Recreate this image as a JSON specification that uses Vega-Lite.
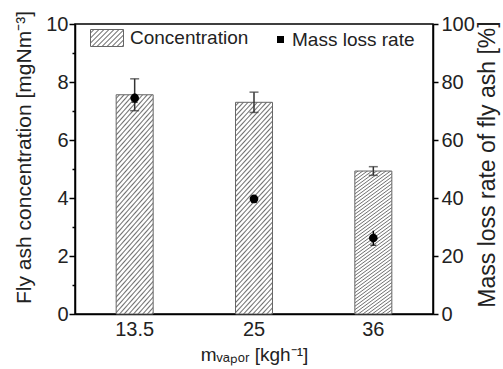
{
  "$schema": "https://vega.github.io/schema/vega-lite/v6.json",
  "width": 358,
  "height": 290,
  "autosize": {"type": "none"},
  "padding": {"left": 75, "top": 24, "right": 70, "bottom": 55},
  "config": {
    "font": "Liberation Sans",
    "view": {"stroke": "black", "strokeWidth": 1.5},
    "axis": {
      "grid": false,
      "domainColor": "black",
      "domainWidth": 1.5,
      "tickColor": "black",
      "tickWidth": 1.5,
      "labelColor": "#222",
      "titleColor": "#222",
      "titleFontWeight": "normal",
      "labelFont": "Liberation Sans",
      "titleFont": "Liberation Sans"
    }
  },
  "data": {
    "values": [
      {"m": "13.5", "conc": 7.56, "conc_lo": 7.01, "conc_hi": 8.11, "loss": 74.5, "loss_lo": 73.0, "loss_hi": 76.0},
      {"m": "25", "conc": 7.3, "conc_lo": 6.95, "conc_hi": 7.65, "loss": 39.7, "loss_lo": 38.5, "loss_hi": 41.0},
      {"m": "36", "conc": 4.93, "conc_lo": 4.78, "conc_hi": 5.08, "loss": 26.2, "loss_lo": 23.7, "loss_hi": 28.7}
    ]
  },
  "encoding": {
    "x": {
      "field": "m",
      "type": "nominal",
      "sort": null,
      "scale": {"paddingInner": 0.69, "paddingOuter": 0.345},
      "axis": {
        "ticks": false,
        "labelAngle": 0,
        "labelFontSize": 20,
        "labelPadding": 5,
        "title": "mᵥₐₚₒᵣ [kgh⁻¹]",
        "titleFontSize": 19,
        "titlePadding": 6
      }
    }
  },
  "layer": [
    {
      "layer": [
        {
          "mark": {
            "type": "bar",
            "stroke": "#666",
            "strokeWidth": 1,
            "fill": {
              "gradient": "linear", "x1": 0, "y1": 0, "x2": 0.2185, "y2": 1.15,
              "stops": [
                {"offset": 0, "color": "#fff"}, {"offset": 0.008, "color": "#fff"}, {"offset": 0.014, "color": "#707070"},
                {"offset": 0.02, "color": "#fff"}, {"offset": 0.028, "color": "#fff"}, {"offset": 0.034, "color": "#707070"},
                {"offset": 0.04, "color": "#fff"}, {"offset": 0.048, "color": "#fff"}, {"offset": 0.054, "color": "#707070"},
                {"offset": 0.06, "color": "#fff"}, {"offset": 0.068, "color": "#fff"}, {"offset": 0.074, "color": "#707070"},
                {"offset": 0.08, "color": "#fff"}, {"offset": 0.088, "color": "#fff"}, {"offset": 0.094, "color": "#707070"},
                {"offset": 0.1, "color": "#fff"}, {"offset": 0.108, "color": "#fff"}, {"offset": 0.114, "color": "#707070"},
                {"offset": 0.12, "color": "#fff"}, {"offset": 0.128, "color": "#fff"}, {"offset": 0.134, "color": "#707070"},
                {"offset": 0.14, "color": "#fff"}, {"offset": 0.148, "color": "#fff"}, {"offset": 0.154, "color": "#707070"},
                {"offset": 0.16, "color": "#fff"}, {"offset": 0.168, "color": "#fff"}, {"offset": 0.174, "color": "#707070"},
                {"offset": 0.18, "color": "#fff"}, {"offset": 0.188, "color": "#fff"}, {"offset": 0.194, "color": "#707070"},
                {"offset": 0.2, "color": "#fff"}, {"offset": 0.208, "color": "#fff"}, {"offset": 0.214, "color": "#707070"},
                {"offset": 0.22, "color": "#fff"}, {"offset": 0.228, "color": "#fff"}, {"offset": 0.234, "color": "#707070"},
                {"offset": 0.24, "color": "#fff"}, {"offset": 0.248, "color": "#fff"}, {"offset": 0.254, "color": "#707070"},
                {"offset": 0.26, "color": "#fff"}, {"offset": 0.268, "color": "#fff"}, {"offset": 0.274, "color": "#707070"},
                {"offset": 0.28, "color": "#fff"}, {"offset": 0.288, "color": "#fff"}, {"offset": 0.294, "color": "#707070"},
                {"offset": 0.3, "color": "#fff"}, {"offset": 0.308, "color": "#fff"}, {"offset": 0.314, "color": "#707070"},
                {"offset": 0.32, "color": "#fff"}, {"offset": 0.328, "color": "#fff"}, {"offset": 0.334, "color": "#707070"},
                {"offset": 0.34, "color": "#fff"}, {"offset": 0.348, "color": "#fff"}, {"offset": 0.354, "color": "#707070"},
                {"offset": 0.36, "color": "#fff"}, {"offset": 0.368, "color": "#fff"}, {"offset": 0.374, "color": "#707070"},
                {"offset": 0.38, "color": "#fff"}, {"offset": 0.388, "color": "#fff"}, {"offset": 0.394, "color": "#707070"},
                {"offset": 0.4, "color": "#fff"}, {"offset": 0.408, "color": "#fff"}, {"offset": 0.414, "color": "#707070"},
                {"offset": 0.42, "color": "#fff"}, {"offset": 0.428, "color": "#fff"}, {"offset": 0.434, "color": "#707070"},
                {"offset": 0.44, "color": "#fff"}, {"offset": 0.448, "color": "#fff"}, {"offset": 0.454, "color": "#707070"},
                {"offset": 0.46, "color": "#fff"}, {"offset": 0.468, "color": "#fff"}, {"offset": 0.474, "color": "#707070"},
                {"offset": 0.48, "color": "#fff"}, {"offset": 0.488, "color": "#fff"}, {"offset": 0.494, "color": "#707070"},
                {"offset": 0.5, "color": "#fff"}, {"offset": 0.508, "color": "#fff"}, {"offset": 0.514, "color": "#707070"},
                {"offset": 0.52, "color": "#fff"}, {"offset": 0.528, "color": "#fff"}, {"offset": 0.534, "color": "#707070"},
                {"offset": 0.54, "color": "#fff"}, {"offset": 0.548, "color": "#fff"}, {"offset": 0.554, "color": "#707070"},
                {"offset": 0.56, "color": "#fff"}, {"offset": 0.568, "color": "#fff"}, {"offset": 0.574, "color": "#707070"},
                {"offset": 0.58, "color": "#fff"}, {"offset": 0.588, "color": "#fff"}, {"offset": 0.594, "color": "#707070"},
                {"offset": 0.6, "color": "#fff"}, {"offset": 0.608, "color": "#fff"}, {"offset": 0.614, "color": "#707070"},
                {"offset": 0.62, "color": "#fff"}, {"offset": 0.628, "color": "#fff"}, {"offset": 0.634, "color": "#707070"},
                {"offset": 0.64, "color": "#fff"}, {"offset": 0.648, "color": "#fff"}, {"offset": 0.654, "color": "#707070"},
                {"offset": 0.66, "color": "#fff"}, {"offset": 0.668, "color": "#fff"}, {"offset": 0.674, "color": "#707070"},
                {"offset": 0.68, "color": "#fff"}, {"offset": 0.688, "color": "#fff"}, {"offset": 0.694, "color": "#707070"},
                {"offset": 0.7, "color": "#fff"}, {"offset": 0.708, "color": "#fff"}, {"offset": 0.714, "color": "#707070"},
                {"offset": 0.72, "color": "#fff"}, {"offset": 0.728, "color": "#fff"}, {"offset": 0.734, "color": "#707070"},
                {"offset": 0.74, "color": "#fff"}, {"offset": 0.748, "color": "#fff"}, {"offset": 0.754, "color": "#707070"},
                {"offset": 0.76, "color": "#fff"}, {"offset": 0.768, "color": "#fff"}, {"offset": 0.774, "color": "#707070"},
                {"offset": 0.78, "color": "#fff"}, {"offset": 0.788, "color": "#fff"}, {"offset": 0.794, "color": "#707070"},
                {"offset": 0.8, "color": "#fff"}, {"offset": 0.808, "color": "#fff"}, {"offset": 0.814, "color": "#707070"},
                {"offset": 0.82, "color": "#fff"}, {"offset": 0.828, "color": "#fff"}, {"offset": 0.834, "color": "#707070"},
                {"offset": 0.84, "color": "#fff"}, {"offset": 0.848, "color": "#fff"}, {"offset": 0.854, "color": "#707070"},
                {"offset": 0.86, "color": "#fff"}, {"offset": 0.868, "color": "#fff"}, {"offset": 0.874, "color": "#707070"},
                {"offset": 0.88, "color": "#fff"}, {"offset": 0.888, "color": "#fff"}, {"offset": 0.894, "color": "#707070"},
                {"offset": 0.9, "color": "#fff"}, {"offset": 0.908, "color": "#fff"}, {"offset": 0.914, "color": "#707070"},
                {"offset": 0.92, "color": "#fff"}, {"offset": 0.928, "color": "#fff"}, {"offset": 0.934, "color": "#707070"},
                {"offset": 0.94, "color": "#fff"}, {"offset": 0.948, "color": "#fff"}, {"offset": 0.954, "color": "#707070"},
                {"offset": 0.96, "color": "#fff"}, {"offset": 0.968, "color": "#fff"}, {"offset": 0.974, "color": "#707070"},
                {"offset": 0.98, "color": "#fff"}, {"offset": 0.988, "color": "#fff"}, {"offset": 0.994, "color": "#707070"},
                {"offset": 1, "color": "#fff"}
              ]
            }
          },
          "encoding": {
            "y": {
              "field": "conc",
              "type": "quantitative",
              "scale": {"domain": [0, 10], "nice": false},
              "axis": {
                "orient": "left",
                "values": [0, 2, 4, 6, 8, 10],
                "tickSize": 6,
                "labelFontSize": 20,
                "labelPadding": 1,
                "title": "Fly ash concentration [mgNm⁻³]",
                "titleFontSize": 21,
                "titlePadding": 11,
                "titleY": 133
              }
            }
          }
        },
        {
          "mark": {"type": "rule", "color": "#333", "strokeWidth": 1.5},
          "encoding": {
            "y": {"field": "conc_lo", "type": "quantitative", "axis": null},
            "y2": {"field": "conc_hi"}
          }
        },
        {
          "mark": {"type": "tick", "color": "#333", "thickness": 1.5, "size": 9},
          "encoding": {"y": {"field": "conc_hi", "type": "quantitative", "axis": null}}
        },
        {
          "mark": {"type": "tick", "color": "#333", "thickness": 1.5, "size": 9},
          "encoding": {
            "y": {
              "field": "conc_lo",
              "type": "quantitative",
              "axis": {
                "orient": "left",
                "values": [1, 3, 5, 7, 9],
                "tickSize": 3,
                "labels": false,
                "domain": false,
                "title": null
              }
            }
          }
        }
      ],
      "resolve": {"axis": {"y": "independent"}}
    },
    {
      "layer": [
        {
          "mark": {"type": "rule", "color": "black", "strokeWidth": 1.5},
          "encoding": {
            "y": {"field": "loss_lo", "type": "quantitative", "scale": {"domain": [0, 100], "nice": false}},
            "y2": {"field": "loss_hi"}
          }
        },
        {
          "mark": {"type": "point", "filled": true, "shape": "circle", "size": 75, "opacity": 1},
          "encoding": {
            "y": {
              "field": "loss",
              "type": "quantitative",
              "scale": {"domain": [0, 100], "nice": false},
              "axis": {
                "orient": "right",
                "values": [0, 20, 40, 60, 80, 100],
                "tickSize": 5,
                "labelFontSize": 20,
                "labelPadding": 3,
                "title": "Mass loss rate of fly ash [%]",
                "titleFontSize": 23,
                "titleAngle": 270,
                "titleBaseline": "top",
                "titlePadding": 2,
                "titleY": 140
              }
            },
            "color": {
              "datum": "Mass loss rate",
              "type": "nominal",
              "scale": {"range": ["black"]},
              "legend": {
                "orient": "none",
                "legendX": 196,
                "legendY": 6,
                "padding": 0,
                "title": null,
                "labelFontSize": 19,
                "labelColor": "#222",
                "symbolType": "square",
                "symbolSize": 49,
                "symbolOpacity": 1,
                "labelOffset": 2
              }
            }
          }
        },
        {
          "mark": {"type": "tick", "color": "black", "thickness": 1.5, "size": 6},
          "encoding": {"y": {"field": "loss_lo", "type": "quantitative"}}
        },
        {
          "mark": {"type": "point", "filled": true, "shape": "square", "opacity": 0},
          "encoding": {
            "fill": {
              "datum": "Concentration",
              "type": "nominal",
              "scale": {
                "range": [
                  {"expr": "{gradient:'linear',x1:0,y1:0,x2:1.198,y2:0.617,stops:[{offset:0,color:'#fff'},{offset:0.04,color:'#fff'},{offset:0.07,color:'#707070'},{offset:0.1,color:'#fff'},{offset:0.14,color:'#fff'},{offset:0.17,color:'#707070'},{offset:0.2,color:'#fff'},{offset:0.24,color:'#fff'},{offset:0.27,color:'#707070'},{offset:0.3,color:'#fff'},{offset:0.34,color:'#fff'},{offset:0.37,color:'#707070'},{offset:0.4,color:'#fff'},{offset:0.44,color:'#fff'},{offset:0.47,color:'#707070'},{offset:0.5,color:'#fff'},{offset:0.54,color:'#fff'},{offset:0.57,color:'#707070'},{offset:0.6,color:'#fff'},{offset:0.64,color:'#fff'},{offset:0.67,color:'#707070'},{offset:0.7,color:'#fff'},{offset:0.74,color:'#fff'},{offset:0.77,color:'#707070'},{offset:0.8,color:'#fff'},{offset:0.84,color:'#fff'},{offset:0.87,color:'#707070'},{offset:0.9,color:'#fff'},{offset:0.94,color:'#fff'},{offset:0.97,color:'#707070'},{offset:1,color:'#fff'}]}"}
                ]
              },
              "legend": {
                "orient": "none",
                "legendX": 15,
                "legendY": -3,
                "padding": 0,
                "title": null,
                "labelFontSize": 19,
                "labelColor": "#222",
                "symbolType": "M-1,-0.515h2v1.03h-2z",
                "symbolSize": 1089,
                "symbolOpacity": 1,
                "symbolStrokeColor": "#666",
                "symbolStrokeWidth": 1,
                "labelOffset": 6
              }
            }
          }
        }
      ]
    }
  ],
  "resolve": {"scale": {"y": "independent"}}
}
